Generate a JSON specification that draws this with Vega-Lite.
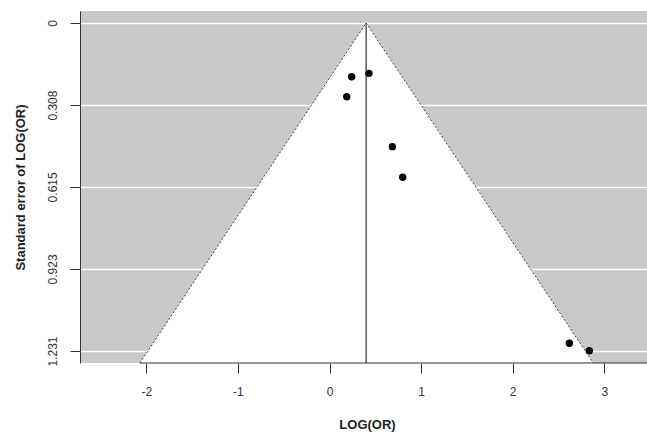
{
  "$schema": "https://vega.github.io/schema/vega-lite/v6.json",
  "width": 567,
  "height": 352,
  "autosize": "none",
  "padding": {"left": 80, "top": 11, "right": 0, "bottom": 74},
  "background": "white",
  "config": {
    "view": {"fill": "#c8c8c8", "stroke": null},
    "font": "Liberation Sans",
    "axis": {
      "labelFont": "Liberation Sans",
      "titleFont": "Liberation Sans",
      "labelColor": "#333",
      "titleColor": "#222",
      "domainColor": "#333",
      "tickColor": "#333",
      "labelFontSize": 12,
      "titleFontSize": 13,
      "titleFontWeight": "bold",
      "tickSize": 10
    }
  },
  "datasets": {
    "funnel": [
      {"se": 0, "lo": 0.4, "hi": 0.4},
      {"se": 1.276, "lo": -2.07, "hi": 2.88}
    ],
    "edges": [
      {"side": "L", "se": 0, "v": 0.4},
      {"side": "L", "se": 1.276, "v": -2.07},
      {"side": "R", "se": 0, "v": 0.4},
      {"side": "R", "se": 1.276, "v": 2.88}
    ],
    "center": [{"est": 0.4, "se0": 0, "se1": 1.276}],
    "baseline": [{"x0": -2.07, "x1": 3.466, "se": 1.276}],
    "studies": [
      {"logor": 0.242, "se": 0.2015},
      {"logor": 0.431, "se": 0.189},
      {"logor": 0.188, "se": 0.2765},
      {"logor": 0.686, "se": 0.464},
      {"logor": 0.799, "se": 0.579},
      {"logor": 2.618, "se": 1.202},
      {"logor": 2.836, "se": 1.23}
    ]
  },
  "encoding": {
    "x": {
      "type": "quantitative",
      "scale": {"domain": [-2.724, 3.466], "nice": false, "zero": false},
      "axis": {
        "title": "LOG(OR)",
        "values": [-2, -1, 0, 1, 2, 3],
        "labelExpr": "toString(datum.value)",
        "domain": false,
        "grid": false,
        "labelPadding": 13,
        "titlePadding": 21,
        "titleX": 287
      }
    },
    "y": {
      "type": "quantitative",
      "scale": {"domain": [-0.045, 1.276], "nice": false, "zero": false, "reverse": true},
      "axis": {
        "title": "Standard error of LOG(OR)",
        "values": [0, 0.308, 0.615, 0.923, 1.231],
        "format": ".3~f",
        "labelAngle": -90,
        "labelPadding": 11,
        "titlePadding": 19,
        "grid": true,
        "gridColor": "white",
        "gridWidth": 1.5
      }
    }
  },
  "layer": [
    {
      "data": {"name": "funnel"},
      "mark": {"type": "area", "orient": "horizontal", "color": "white", "opacity": 1},
      "encoding": {
        "y": {"field": "se"},
        "x": {"field": "lo"},
        "x2": {"field": "hi"}
      }
    },
    {
      "data": {"name": "edges"},
      "mark": {"type": "line", "color": "#444", "strokeWidth": 1, "strokeDash": [2, 2]},
      "encoding": {
        "x": {"field": "v"},
        "y": {"field": "se"},
        "detail": {"field": "side"}
      }
    },
    {
      "data": {"name": "center"},
      "mark": {"type": "rule", "color": "#333", "strokeWidth": 1.2},
      "encoding": {
        "x": {"field": "est"},
        "y": {"field": "se0"},
        "y2": {"field": "se1"}
      }
    },
    {
      "data": {"name": "baseline"},
      "mark": {"type": "rule", "color": "#333", "strokeWidth": 1.2},
      "encoding": {
        "x": {"field": "x0"},
        "x2": {"field": "x1"},
        "y": {"field": "se"}
      }
    },
    {
      "data": {"name": "studies"},
      "mark": {"type": "circle", "color": "black", "opacity": 1, "size": 55},
      "encoding": {
        "x": {"field": "logor"},
        "y": {"field": "se"}
      }
    }
  ]
}
